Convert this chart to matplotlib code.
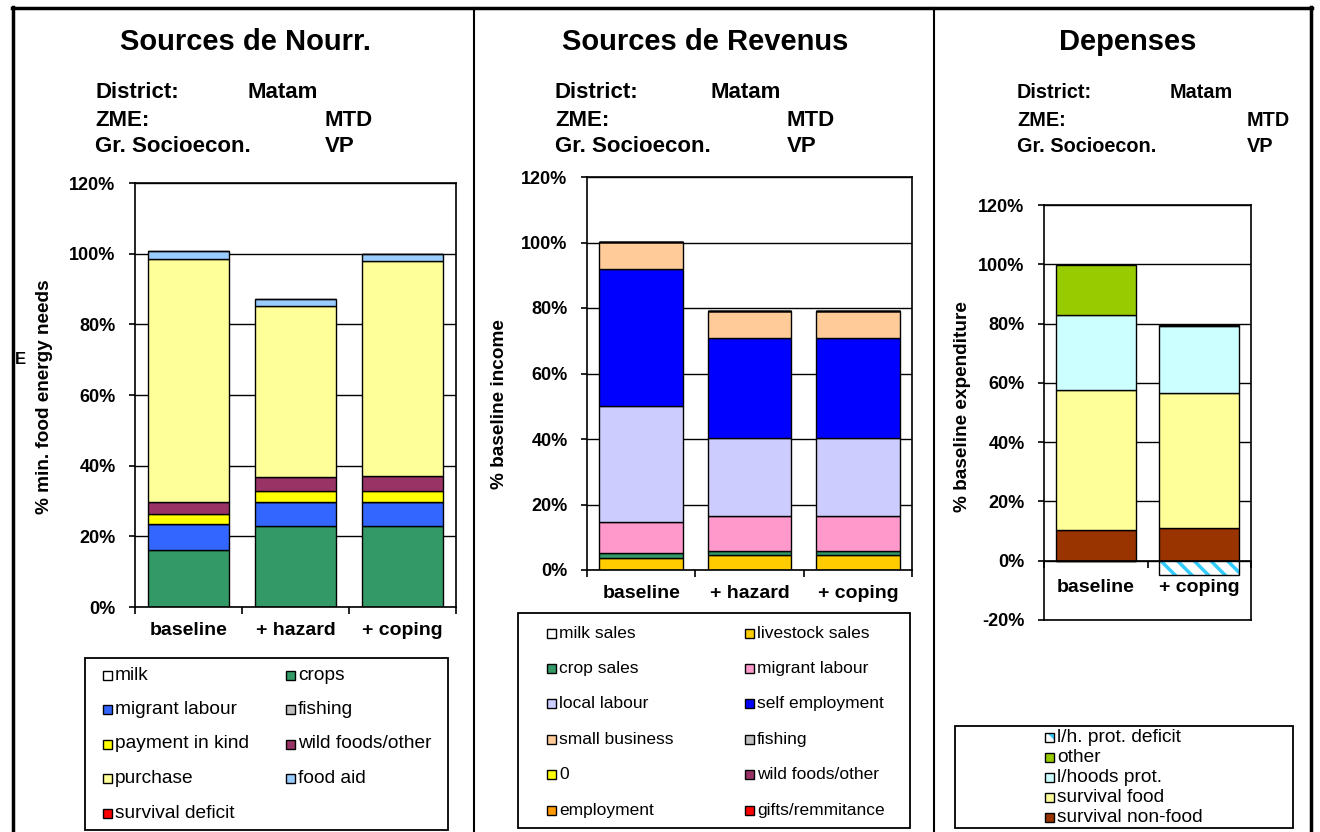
import matplotlib
matplotlib.use("Agg")
import matplotlib.pyplot as plt
from matplotlib.patches import Rectangle
from matplotlib.lines import Line2D
from matplotlib.ticker import FuncFormatter

W, H = 1320, 832
plt.rcParams['font.family'] = ['Liberation Sans', 'DejaVu Sans']
plt.rcParams['font.weight'] = 'bold'
plt.rcParams['hatch.linewidth'] = 2.5

# ---- Sources de Nourriture (% min. food energy needs)
scen_food = ["baseline", "+ hazard", "+ coping"]
food_labels = ["milk", "crops", "migrant labour", "fishing", "payment in kind",
               "wild foods/other", "purchase", "food aid", "survival deficit"]
food_colors = ["#FFFFFF", "#339966", "#3366FF", "#C0C0C0", "#FFFF00",
               "#993366", "#FFFF99", "#99CCFF", "#FF0000"]
food_milk = [0, 0, 0]
food_crops = [16.2, 23.0, 23.0]
food_migrant = [7.2, 6.7, 6.7]
food_fishing = [0, 0, 0]
food_payment = [3.0, 3.1, 3.1]
food_wild = [3.3, 4.0, 4.2]
food_purchase = [68.9, 48.3, 60.8]
food_aid = [2.2, 2.0, 2.2]
food_deficit = [0, 0, 0]
food_series = [food_milk, food_crops, food_migrant, food_fishing, food_payment,
               food_wild, food_purchase, food_aid, food_deficit]

# ---- Sources de Revenus (% baseline income)
scen_inc = ["baseline", "+ hazard", "+ coping"]
inc_labels = ["milk sales", "livestock sales", "crop sales", "migrant labour",
              "local labour", "self employment", "small business", "fishing",
              "0", "wild foods/other", "employment", "gifts/remmitance"]
inc_colors = ["#FFFFFF", "#FFCC00", "#339966", "#FF99CC", "#CCCCFF", "#0000FF",
              "#FFCC99", "#C0C0C0", "#FFFF00", "#993366", "#FF9900", "#FF0000"]
inc_milk = [0, 0, 0]
inc_livestock = [3.8, 4.6, 4.6]
inc_crop = [1.3, 1.3, 1.3]
inc_migrant = [9.7, 10.6, 10.6]
inc_local = [35.4, 23.9, 23.9]
inc_self = [41.8, 30.4, 30.4]
inc_business = [8.1, 8.4, 8.4]
inc_fishing = [0, 0, 0]
inc_zero = [0, 0, 0]
inc_wild = [0, 0, 0]
inc_employment = [0, 0, 0]
inc_gifts = [0, 0, 0]
inc_series = [inc_milk, inc_livestock, inc_crop, inc_migrant, inc_local, inc_self,
              inc_business, inc_fishing, inc_zero, inc_wild, inc_employment, inc_gifts]

# ---- Depenses (% baseline expenditure)
scen_exp = ["baseline", "+ coping"]
exp_labels = ["survival non-food", "survival food", "l/hoods prot.", "other"]
exp_colors = ["#993300", "#FFFF99", "#CCFFFF", "#99CC00"]
exp_nonfood = [10.5, 11.0]
exp_food = [47.2, 45.7]
exp_lhoods = [25.3, 22.6]
exp_other = [16.9, 0.3]
exp_series = [exp_nonfood, exp_food, exp_lhoods, exp_other]
exp_deficit = [0, -4.9]
deficit_label = "l/h. prot. deficit"
deficit_color = "#33CCFF"

fig = plt.figure(figsize=(W / 100, H / 100), dpi=100)


def axes_px(l, t, r, b):
    return fig.add_axes([l / W, 1 - b / H, (r - l) / W, (b - t) / H])


def ftext(x, y, s, **kw):
    fig.text(x / W, 1 - y / H, s, **kw)


def pct(v, p):
    return f"{v:.0f}%"


def stack(ax, series, colors, width):
    bottom = [0] * len(series[0])
    for vals, c in zip(series, colors):
        ax.bar(range(len(vals)), vals, width, bottom=bottom, color=c,
               edgecolor="black", linewidth=1, zorder=2)
        bottom = [b + v for b, v in zip(bottom, vals)]


def style(ax, cats, ylim, xpad):
    n = len(cats)
    ax.set_xlim(-0.5, n - 0.5)
    ax.set_ylim(*ylim)
    ax.set_yticks(range(ylim[0], ylim[1] + 1, 20))
    ax.yaxis.set_major_formatter(FuncFormatter(pct))
    ax.yaxis.grid(True, color="black", linewidth=1)
    ax.set_axisbelow(True)
    ax.set_xticks([i - 0.5 for i in range(n + 1)])
    ax.set_xticklabels([])
    ax.set_xticks(range(n), minor=True)
    ax.set_xticklabels(cats, minor=True, fontsize=14, fontweight="bold")
    ax.tick_params(axis="x", which="minor", length=0, pad=xpad)
    ax.tick_params(axis="x", which="major", length=5, width=1.2)
    ax.tick_params(axis="y", length=4, width=1.2, pad=10, labelsize=13)
    for sp in ax.spines.values():
        sp.set_linewidth(1.2)


def header(x0, xv, xv2, title, xt, fs):
    ftext(xt, 42, title, fontsize=21, ha="center", va="center", fontweight="bold")
    ftext(x0, 93, "District:", fontsize=fs, va="center")
    ftext(xv, 93, "Matam", fontsize=fs, va="center")
    ftext(x0, 120, "ZME:", fontsize=fs, va="center")
    ftext(xv2, 120, "MTD", fontsize=fs, va="center")
    ftext(x0, 147, "Gr. Socioecon.", fontsize=fs, va="center")
    ftext(xv2, 147, "VP", fontsize=fs, va="center")


def legend_box(box, entries, cols_x, row0, dy, fs):
    x0, y0, x1, y1 = box
    fig.add_artist(Rectangle((x0 / W, 1 - y1 / H), (x1 - x0) / W, (y1 - y0) / H,
                             transform=fig.transFigure, fill=False,
                             edgecolor="black", linewidth=1.3))
    ncol = len(cols_x)
    s = 9
    for i, (lab, col, hatch) in enumerate(entries):
        cx = cols_x[i % ncol]
        cy = row0 + (i // ncol) * dy
        if hatch:
            fig.add_artist(Rectangle((cx / W, 1 - (cy + s / 2) / H), s / W, s / H,
                                     transform=fig.transFigure, facecolor="white",
                                     edgecolor=col, hatch=hatch, linewidth=0))
            fig.add_artist(Rectangle((cx / W, 1 - (cy + s / 2) / H), s / W, s / H,
                                     transform=fig.transFigure, fill=False,
                                     edgecolor="black", linewidth=1))
        else:
            fig.add_artist(Rectangle((cx / W, 1 - (cy + s / 2) / H), s / W, s / H,
                                     transform=fig.transFigure, facecolor=col,
                                     edgecolor="black", linewidth=1))
        ftext(cx + 12, cy, lab, fontsize=fs, va="center", fontweight="normal")


# ---------------- panel 1
header(95, 248, 325, "Sources de Nourr.", 245, 16)
ax1 = axes_px(135, 183, 456, 607)
stack(ax1, food_series, food_colors, 0.76)
style(ax1, scen_food, (0, 120), 11)
ftext(45, 397, "% min. food energy needs", fontsize=13.7, rotation=90,
      ha="center", va="center")
ftext(15, 360, "E", fontsize=12, va="center")
ent = [(l, c, None) for l, c in zip(food_labels, food_colors)]
legend_box((85, 658, 448, 830), ent, [103, 286], 675, 34.5, 13.8)

# ---------------- panel 2
header(555, 710, 787, "Sources de Revenus", 705, 16)
ax2 = axes_px(587, 177, 912, 570)
stack(ax2, inc_series, inc_colors, 0.77)
style(ax2, scen_inc, (0, 120), 11)
ftext(500, 404, "% baseline income", fontsize=13.7, rotation=90,
      ha="center", va="center")
ent = [(l, c, None) for l, c in zip(inc_labels, inc_colors)]
legend_box((518, 613, 910, 828), ent, [547, 745], 633, 35.4, 12.5)

# ---------------- panel 3
header(1017, 1170, 1247, "Depenses", 1128, 14.3)
ax3 = axes_px(1044, 205, 1251, 620)
ax3.spines["bottom"].set_position(("data", 0))
stack(ax3, exp_series, exp_colors, 0.77)
x3 = range(len(exp_deficit))
ax3.bar(x3, exp_deficit, 0.77, color="white", edgecolor=deficit_color,
        hatch=r"\\", linewidth=0, zorder=2)
ax3.bar(x3, exp_deficit, 0.77, fill=False, edgecolor="black", linewidth=1, zorder=3)
style(ax3, scen_exp, (-20, 120), 13)
ax3.spines["bottom"].set_zorder(4)
ax3.axhline(-20, color="black", linewidth=1.2, clip_on=False)
ftext(963, 407, "% baseline expenditure", fontsize=13.7, rotation=90,
      ha="center", va="center")
ent = [(deficit_label, deficit_color, r"\\")]
ent += [(l, c, None) for l, c in zip(exp_labels[::-1], exp_colors[::-1])]
legend_box((955, 726, 1293, 828), ent, [1045], 737, 20, 13.8)

# ---------------- outer frame
for x in (13, 1311):
    fig.add_artist(Line2D([x / W, x / W], [0, 1 - 7 / H], color="black",
                          linewidth=2.5, transform=fig.transFigure))
for x in (474, 934):
    fig.add_artist(Line2D([x / W, x / W], [0, 1 - 8 / H], color="black",
                          linewidth=1.5, transform=fig.transFigure))
fig.add_artist(Line2D([12 / W, 1312 / W], [1 - 8 / H, 1 - 8 / H], color="black",
                      linewidth=2.5, transform=fig.transFigure))

fig.savefig("out.png", dpi=100)
